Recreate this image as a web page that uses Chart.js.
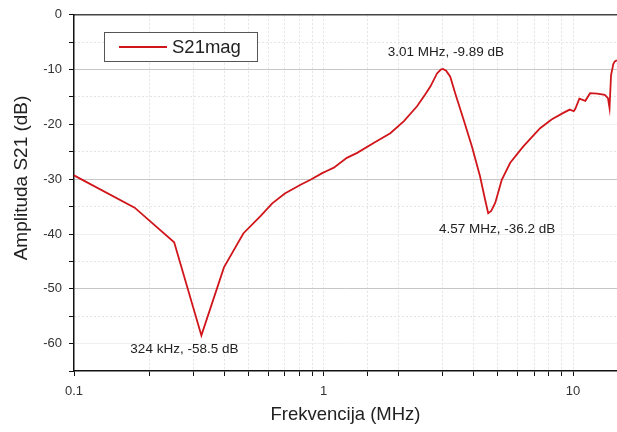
<!DOCTYPE html>
<html lang="en">
<head>
    <meta charset="UTF-8">
    <title>S21mag</title>
    <script src="https://cdn.jsdelivr.net/npm/chart.js@4.4.1/dist/chart.umd.min.js"></script>
    <style>
        html, body { margin: 0; padding: 0; background: #fff; }
        #wrap { width: 617px; height: 432px; }
    </style>
</head>
<body>
    <div id="wrap"><canvas id="s21Chart" width="617" height="432"></canvas></div>

    <script>
        const freqMHz = [0.1, 0.175, 0.252, 0.324, 0.399, 0.477, 0.56, 0.623, 0.7, 0.809, 0.887, 0.988,
            1.03, 1.10, 1.24, 1.364, 1.6, 1.852, 2.1, 2.37, 2.55, 2.68, 2.85, 2.95, 3.01, 3.1, 3.22, 3.37,
            3.64, 3.93, 4.24, 4.44, 4.57, 4.7, 4.88, 5.18, 5.6, 6.32, 7.38, 8.2, 9.14, 9.7, 10.06, 10.2,
            10.6, 11.2, 11.7, 12.5, 13.4, 13.8, 14.0, 14.2, 14.5, 14.7, 15.0];
        const s21dB = [-29.3, -35.2, -41.5, -58.5, -46.1, -39.9, -36.7, -34.4, -32.6, -31.0, -30.1, -28.9,
            -28.5, -27.9, -26.1, -25.2, -23.3, -21.6, -19.4, -16.7, -14.6, -13.1, -10.7, -10.0, -9.89, -10.2, -11.3, -14.3,
            -19.1, -24.0, -29.5, -33.7, -36.2, -35.8, -34.3, -30.1, -27.0, -24.0, -20.7, -19.1, -17.9, -17.3, -17.6, -17.2,
            -15.3, -15.7, -14.3, -14.4, -14.6, -15.2, -17.0, -11.0, -9.0, -8.5, -8.3];

        // Marker labels
        const markFreq = [3.01, 4.57, 0.324];
        const markDB = [-9.89, -36.2, -58.5];
        const markText = ['3.01 MHz, -9.89 dB', '4.57 MHz, -36.2 dB', '324 kHz, -58.5 dB'];

        const xLabels = [0.1, 1, 10];
        const seriesName = 'S21mag';
        const yTitle = 'Amplituda S21 (dB)';
        const lineColor = '#d0161b';

        const FONT = "'Liberation Sans', Arial, sans-serif";

        const points = freqMHz.map((f, i) => ({ x: f, y: s21dB[i] }));

        // Legend box, marker texts, y title
        const overlay = {
            id: 'overlay',
            afterDatasetsDraw(chart) {
                const { ctx, scales: { x, y } } = chart;
                ctx.save();
                // marker texts
                const offs = [[3, -17], [9, 16], [-17, 14]];
                ctx.font = '13.5px ' + FONT;
                ctx.fillStyle = '#222';
                ctx.textAlign = 'center';
                ctx.textBaseline = 'middle';
                markText.forEach((t, i) => {
                    const px = x.getPixelForValue(markFreq[i]) + offs[i][0];
                    const py = y.getPixelForValue(markDB[i]) + offs[i][1];
                    ctx.fillText(t, px, py);
                });
                // legend
                const lx = 104, ly = 32, lw = 153, lh = 29;
                ctx.fillStyle = '#fff';
                ctx.fillRect(lx, ly, lw, lh);
                ctx.strokeStyle = '#555';
                ctx.lineWidth = 1;
                ctx.strokeRect(lx + 0.5, ly + 0.5, lw, lh);
                ctx.strokeStyle = lineColor;
                ctx.lineWidth = 2;
                ctx.beginPath();
                ctx.moveTo(lx + 15, ly + 15);
                ctx.lineTo(lx + 63, ly + 15);
                ctx.stroke();
                ctx.fillStyle = '#222';
                ctx.font = '18.5px ' + FONT;
                ctx.textAlign = 'left';
                ctx.fillText(seriesName, lx + 68, ly + 15.5);
                // y axis title
                ctx.translate(22, 178);
                ctx.rotate(-Math.PI / 2);
                ctx.font = '19px ' + FONT;
                ctx.textAlign = 'center';
                ctx.fillText(yTitle, 0, 0);
                ctx.restore();
            }
        };

        const yMajorColor = v => {
            if (v === -10 || v === -30 || v === -50) return '#c6c6c6';
            if (v % 10 === 0 && v !== 0 && v !== -65) return '#f0f0f0';
            return 'rgba(0,0,0,0)';
        };

        new Chart(document.getElementById('s21Chart'), {
            type: 'scatter',
            data: {
                datasets: [{
                    label: seriesName,
                    data: points,
                    showLine: true,
                    borderColor: lineColor,
                    borderWidth: 1.8,
                    pointRadius: 0,
                    tension: 0
                }]
            },
            options: {
                responsive: false,
                animation: false,
                layout: { padding: { top: 13, right: 0, left: 0, bottom: 0 } },
                plugins: { legend: { display: false }, tooltip: { enabled: false } },
                scales: {
                    x: {
                        type: 'logarithmic',
                        min: 0.1,
                        max: 15,
                        afterFit: s => { s.height = 61; s.paddingRight = 0; },
                        border: { color: '#111', width: 1.5, dash: [2, 2] },
                        grid: {
                            color: c => (c.tick && c.tick.value < 14.9 && c.tick.value > 0.1001) ? '#e4e4e4' : 'rgba(0,0,0,0)',
                            tickColor: c => (c.tick && c.tick.value > 14.9) ? 'rgba(0,0,0,0)' : '#111',
                            tickLength: 5
                        },
                        ticks: {
                            autoSkip: false,
                            maxRotation: 0,
                            padding: 8,
                            color: '#333',
                            font: { family: FONT, size: 13 },
                            callback: v => xLabels.some(l => Math.abs(l - v) < 1e-9) ? String(v) : ''
                        },
                        title: {
                            display: true,
                            text: 'Frekvencija (MHz)',
                            color: '#222',
                            font: { family: FONT, size: 18.5 },
                            padding: { top: 0, bottom: 6 }
                        }
                    },
                    xTop: {
                        type: 'logarithmic',
                        position: 'top',
                        min: 0.1,
                        max: 15,
                        afterFit: s => { s.height = 0; s.paddingRight = 0; },
                        border: { color: '#444', width: 1.5 },
                        grid: { display: false, drawTicks: false },
                        ticks: { display: false }
                    },
                    y: {
                        min: -65,
                        max: 0,
                        afterFit: s => { s.width = 74; },
                        border: { color: '#111', width: 1.5 },
                        grid: {
                            color: c => yMajorColor(c.tick ? c.tick.value : 0),
                            tickColor: '#111',
                            tickLength: 5
                        },
                        ticks: {
                            stepSize: 5,
                            autoSkip: false,
                            padding: 7,
                            color: '#333',
                            font: { family: FONT, size: 13 },
                            callback: v => (v % 10 === 0) ? String(v) : ''
                        }
                    },
                    yMinor: {
                        min: -65,
                        max: 0,
                        position: 'left',
                        afterFit: s => { s.width = 0; },
                        border: { display: false, dash: [2, 2] },
                        grid: {
                            drawTicks: false,
                            color: c => (c.tick && c.tick.value % 10 !== 0 && c.tick.value !== -65) ? '#e4e4e4' : 'rgba(0,0,0,0)'
                        },
                        ticks: { display: false, stepSize: 5 }
                    }
                }
            },
            plugins: [overlay]
        });
    </script>
</body>
</html>
